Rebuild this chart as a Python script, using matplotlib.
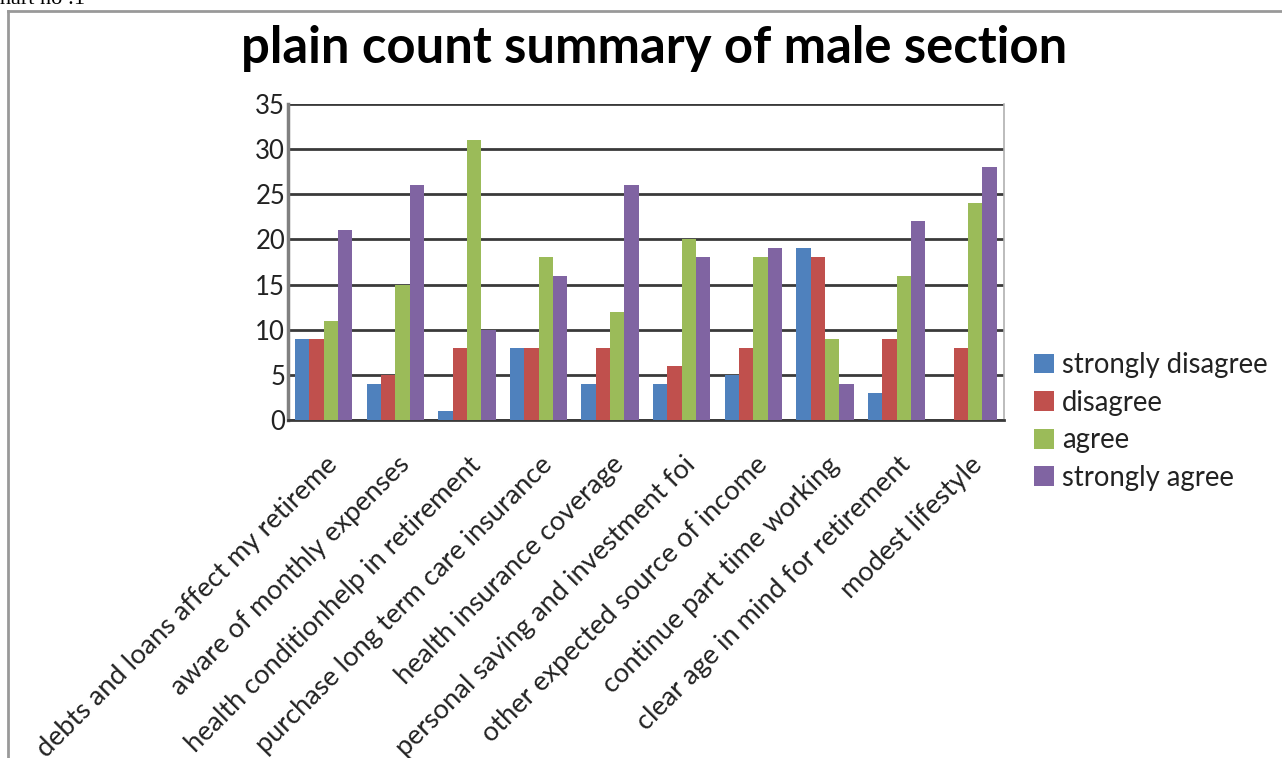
import numpy as np
import matplotlib.pyplot as plt
import matplotlib.transforms as mtransforms
from matplotlib.lines import Line2D

plt.rcParams['font.family'] = ['Lato', 'DejaVu Sans']

questions = [
    'debts and loans affect my retireme',
    'aware of monthly expenses',
    'health conditionhelp in retirement',
    'purchase long term care insurance',
    'health insurance coverage',
    'personal saving and investment foi',
    'other expected source of income',
    'continue part time working',
    'clear age in mind for retirement',
    'modest lifestyle',
]
strongly_disagree = [9, 4, 1, 8, 4, 4, 5, 19, 3, 0]
disagree = [9, 5, 8, 8, 8, 6, 8, 18, 9, 8]
agree = [11, 15, 31, 18, 12, 20, 18, 9, 16, 24]
strongly_agree = [21, 26, 10, 16, 26, 18, 19, 4, 22, 28]

series = [
    ('strongly disagree', strongly_disagree, '#4F81BD'),
    ('disagree', disagree, '#C0504D'),
    ('agree', agree, '#9BBB59'),
    ('strongly agree', strongly_agree, '#8064A2'),
]

fig = plt.figure(figsize=(12.82, 7.58), dpi=100)
ax = fig.add_axes([0.2246, 0.4459, 0.5585, 0.4169])

x = np.arange(len(questions))
w = 0.2
for i, (name, vals, col) in enumerate(series):
    ax.bar(x + (i - 1.5) * w, vals, width=w, color=col, label=name, zorder=3)

ax.set_xlim(-0.5, len(questions) - 0.5)
ax.set_ylim(0, 35)
ax.set_yticks(range(0, 36, 5))
ax.tick_params(axis='y', length=0, labelsize=18.5, pad=2, labelcolor='#222222')
ax.tick_params(axis='x', length=0)
ax.yaxis.grid(True, color='#3a3a3a', linewidth=2, zorder=1)
ax.set_axisbelow(True)

ax.spines['top'].set_visible(False)
ax.spines['left'].set_color('#808080')
ax.spines['left'].set_linewidth(2.5)
ax.spines['bottom'].set_color('#3a3a3a')
ax.spines['bottom'].set_linewidth(2)
ax.spines['right'].set_color('#b0b0b0')
ax.spines['right'].set_linewidth(1.2)

# rotated category labels, right end hanging just below each group
ax.set_xticks(x)
ax.set_xticklabels(questions, rotation=45, ha='right', va='center',
                   rotation_mode='anchor', fontsize=19.5, color='#222222')
shift = mtransforms.ScaledTranslation(10 / 100, -36 / 100, fig.dpi_scale_trans)
for lbl in ax.get_xticklabels():
    lbl.set_transform(lbl.get_transform() + shift)

fig.text(0.510, 0.936, 'plain count summary of male section', ha='center',
         va='center', fontsize=36.5, fontweight='bold', color='black')

ax.legend(loc='center left', bbox_to_anchor=(1.042, -0.005), frameon=False,
          fontsize=19.8, handlelength=0.72, handleheight=0.72, handletextpad=0.3,
          labelspacing=0.42, borderaxespad=0, borderpad=0, labelcolor='#222222')

# outer chart frame
fig.add_artist(Line2D([8 / 1282, 8 / 1282], [0, 1 - 11 / 758],
                      transform=fig.transFigure, color='#999999', linewidth=2))
fig.add_artist(Line2D([8 / 1282, 1], [1 - 11 / 758, 1 - 11 / 758],
                      transform=fig.transFigure, color='#999999', linewidth=2))

fig.text(-0.012, 1.0, 'Chart no :1', family='Liberation Serif', fontsize=16,
         ha='left', va='center', color='black')

fig.savefig('out.png', dpi=100)
